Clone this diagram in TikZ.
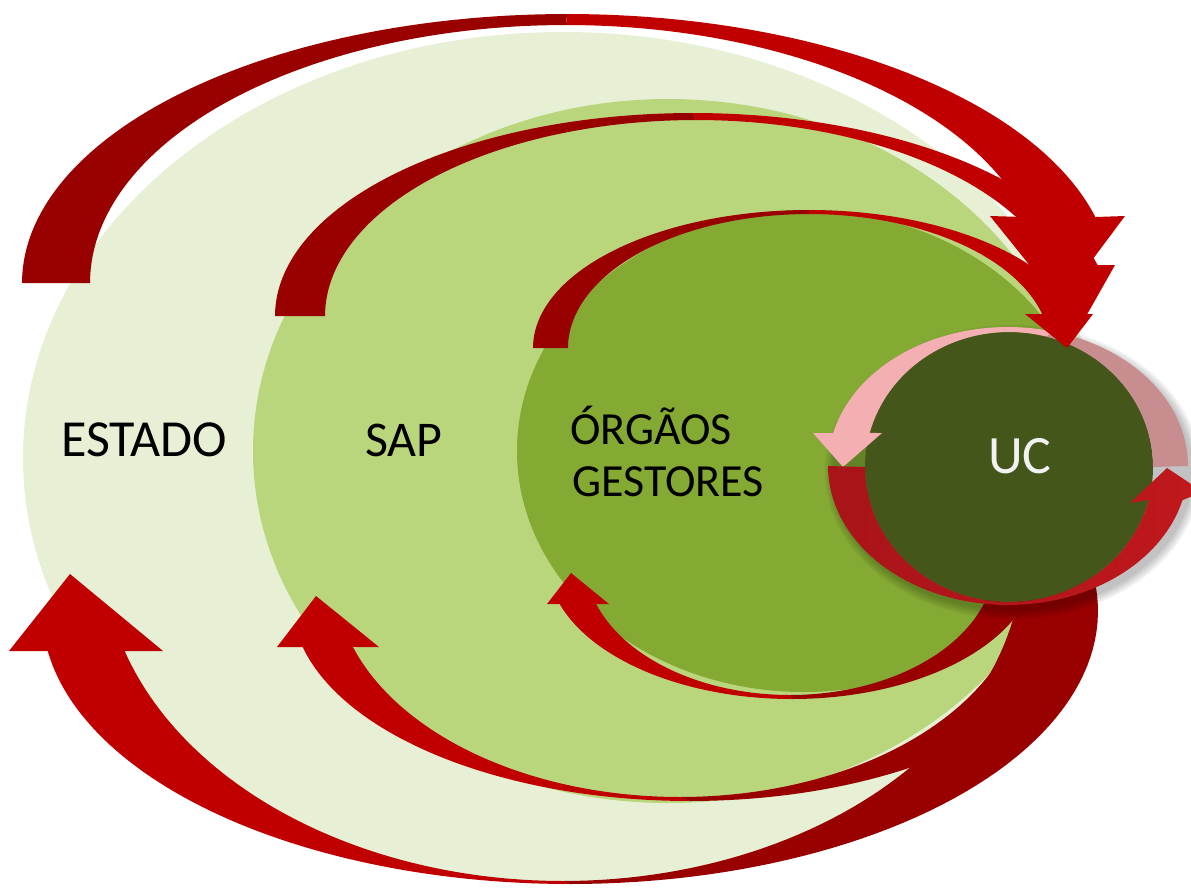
\documentclass[tikz,border=0pt]{standalone}
\usepackage{fontspec}
\setmainfont{Carlito}
\definecolor{cEst}{HTML}{E7F0D5}
\definecolor{cSap}{HTML}{BAD67D}
\definecolor{cOrg}{HTML}{84AA34}
\definecolor{cUC}{HTML}{44561A}
\definecolor{cRed}{HTML}{C00000}
\definecolor{cDark}{HTML}{990000}
\definecolor{cPink}{HTML}{F4AFB3}
\definecolor{cRose}{HTML}{C88E8F}
\definecolor{cRingL}{HTML}{A81419}
\definecolor{cRingR}{HTML}{C0181D}
\tikzset{
  lbl/.style={font=\fontsize{50}{60}\selectfont, inner sep=0pt, anchor=base west, text=black},
  front/.style={fill=cRed},
  back/.style={fill=cDark},
  arc/.style={samples=60},
  shadowlayer/.style={fill=black, fill opacity=0.05}
}
\begin{document}
\begin{tikzpicture}[x=1pt,y=-1pt]
\useasboundingbox (0,0) rectangle (1191,887);
\clip (0,0) rectangle (1191,887);
\fill[white] (0,0) rectangle (1191,887);

% nested ellipses
\fill[cEst] (563,458) ellipse [x radius=540pt, y radius=426pt];
\fill[cSap] (668,451) ellipse [x radius=415pt, y radius=352pt];
\fill[cOrg] (804,451) ellipse [x radius=287pt, y radius=241pt];

% ---- bottom arrows (UC -> outer levels)
% B1
\fill[front] plot[arc,domain=171.57:90] ({570+528*cos(\x)},{611+273*sin(\x)})
  -- plot[arc,domain=90:162.36] ({563+460*cos(\x)},{551+330*sin(\x)})
  -- (163,651) -- (70,574) -- (9,651) -- cycle;
\fill[back] plot[arc,domain=90:-20] ({570+528*cos(\x)},{611+273*sin(\x)})
  -- plot[arc,domain=-5.81:90] ({563+460*cos(\x)},{551+330*sin(\x)}) -- cycle;
% B2
\fill[front] plot[arc,domain=166.7:90] ({690+398*cos(\x)},{601+200*sin(\x)})
  -- plot[arc,domain=90:161.45] ({680+345*cos(\x)},{577+220*sin(\x)})
  -- (379,647) -- (316,596) -- (277,647) -- cycle;
\fill[back] plot[arc,domain=90:-15] ({690+398*cos(\x)},{601+200*sin(\x)})
  -- plot[arc,domain=-7.26:90] ({680+345*cos(\x)},{577+220*sin(\x)}) -- cycle;
% B3
\fill[front] plot[arc,domain=161.55:90] ({792+245*cos(\x)},{560+139*sin(\x)})
  -- plot[arc,domain=90:160.98] ({790+205*cos(\x)},{560+135*sin(\x)})
  -- (609,604) -- (571,573) -- (547,604) -- cycle;
\fill[back] plot[arc,domain=90:5] ({792+245*cos(\x)},{560+139*sin(\x)})
  -- plot[arc,domain=5.1:90] ({790+205*cos(\x)},{560+135*sin(\x)}) -- cycle;

% ---- UC with its cycle
\foreach \r in {0,2,4,6,8}
  \fill[shadowlayer] (1013,472) ellipse [x radius={180pt+\r pt}, y radius={139pt+\r pt}];
\fill[cUC] (1009,467) ellipse [x radius=144pt, y radius=135pt];
\fill[cPink] plot[arc,domain=193.7:285] ({1008+180*cos(\x)},{466+139*sin(\x)})
  -- plot[arc,domain=285:194.6] ({1009+144*cos(\x)},{467+135*sin(\x)})
  -- (882,433) -- (843,467) -- (813,433) -- cycle;
\fill[cRose] plot[arc,domain=285:360] ({1008+180*cos(\x)},{466+139*sin(\x)})
  -- plot[arc,domain=360:285] ({1009+144*cos(\x)},{467+135*sin(\x)}) -- cycle;
\shade[left color=cRingL, right color=cRingR]
  plot[arc,domain=180:14.2] ({1008+180*cos(\x)},{466+139*sin(\x)})
  -- (1203,492) -- (1167,468) -- (1130,503)
  -- plot[arc,domain=14.1:180] ({1009+144*cos(\x)},{467+135*sin(\x)}) -- cycle;

% ---- top arrows (outer levels -> UC)
% A1
\fill[back] plot[arc,domain=180:270] ({567+545*cos(\x)},{283+269*sin(\x)})
  -- plot[arc,domain=270:180] ({566+476*cos(\x)},{283+258*sin(\x)}) -- cycle;
\fill[front] plot[arc,domain=270:345.8] ({567+545*cos(\x)},{283+269*sin(\x)})
  -- (1125,216) -- (1060,303) -- (990,216)
  -- plot[arc,domain=345.2:270] ({566+476*cos(\x)},{283+258*sin(\x)}) -- cycle;
% A2
\fill[back] plot[arc,domain=180:270] ({693+418*cos(\x)},{316+203*sin(\x)})
  -- plot[arc,domain=270:180] ({696+371*cos(\x)},{316+196*sin(\x)}) -- cycle;
\fill[front] plot[arc,domain=270:345.45] ({693+418*cos(\x)},{316+203*sin(\x)})
  -- (1115,265) -- (1076,334) -- (1038,265)
  -- plot[arc,domain=344.92:270] ({696+371*cos(\x)},{316+196*sin(\x)}) -- cycle;
% A3
\fill[back] plot[arc,domain=180:270] ({809+276*cos(\x)},{348+138*sin(\x)})
  -- plot[arc,domain=270:180] ({809+241*cos(\x)},{348+134*sin(\x)}) -- cycle;
\fill[front] plot[arc,domain=270:345.74] ({809+276*cos(\x)},{348+138*sin(\x)})
  -- (1093,314) -- (1067,348) -- (1025,314)
  -- plot[arc,domain=345.3:270] ({809+241*cos(\x)},{348+134*sin(\x)}) -- cycle;

% ---- labels
\node[lbl, font=\fontsize{52}{60}\selectfont] (estado) at (61,456) {ESTADO};
\node[lbl] (sap) at (365,456) {SAP};
\node[lbl, font=\fontsize{46}{56}\selectfont] (org1) at (570,444) {ÓRGÃOS};
\node[lbl, font=\fontsize{46}{56}\selectfont] (org2) at (572,496) {GESTORES};
\node[lbl, font=\fontsize{54}{60}\selectfont, anchor=base, text=white!95!black] (uc) at (1020,473) {UC};
\end{tikzpicture}
\end{document}
